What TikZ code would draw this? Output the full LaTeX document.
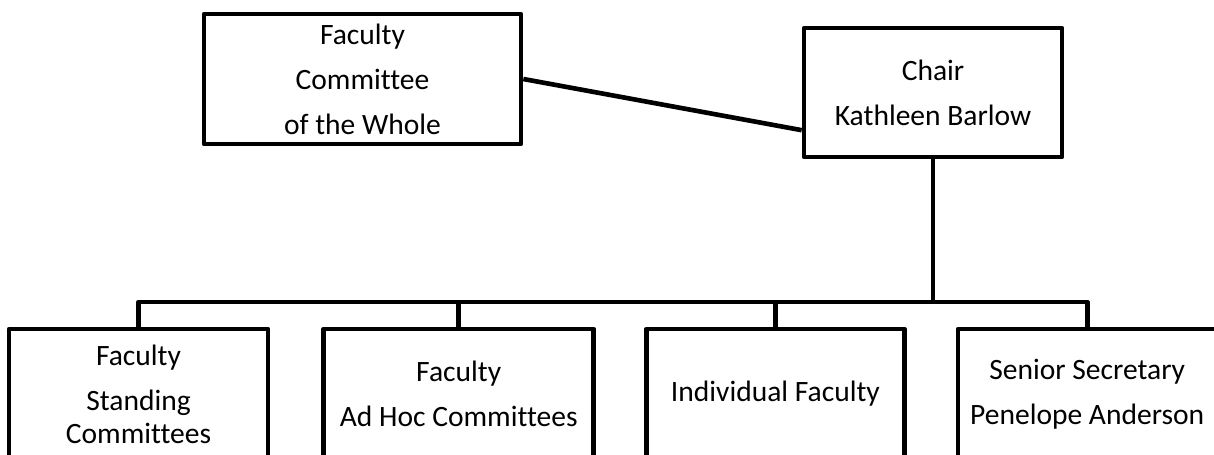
\documentclass[tikz,border=0pt]{standalone}
\usepackage{fontspec}
\setmainfont{Carlito}[Ligatures=NoCommon]
\usetikzlibrary{positioning}
\definecolor{ChartInk}{HTML}{000000}
\tikzset{
  every node/.style={font={\fontsize{21}{32}\selectfont}, text=ChartInk},
  unit/.style={draw=ChartInk, line width=3.3pt, line join=round, rectangle,
    align=center, inner sep=0pt, minimum width=6.45cm, minimum height=3.25cm},
  link/.style={draw=ChartInk, line width=3.3pt, line join=round},
}

\begin{document}
\begin{tikzpicture}[x=0.025cm,y=-0.025cm]
  \useasboundingbox (0,0) rectangle (1214,454);
  \clip (0,0) rectangle (1214,454);
  % Top row: committee of the whole and the chair
  \node[unit, minimum width=7.925cm] (whole) at (362.5,79)
    {Faculty\\Committee\\of the Whole};
  \node[unit, minimum height=3.225cm] (chair) at (933,92.5)
    {Chair\\Kathleen Barlow};
  \draw[link] (whole.east) -- (chair.196.6);
  % Bottom row: units reporting to the chair
  \node[unit, minimum width=6.475cm] (standing) at (138.5,394)
    {Faculty\\Standing\\[-8.5pt]Committees};
  \node[unit, minimum width=6.75cm, right=1.275cm of standing] (adhoc)
    {Faculty\\Ad Hoc Committees};
  \node[unit, right=1.2cm of adhoc] (individual) {Individual Faculty};
  \node[unit, right=1.225cm of individual] (secretary)
    {Senior Secretary\\Penelope Anderson};
  % Bus from the chair down to the row
  \coordinate (bus) at (0,302);
  \draw[link] (chair.south) -- (chair.south |- bus);
  \draw[link] (standing.north) -- (standing.north |- bus)
    -- (secretary.north |- bus) -- (secretary.north);
  \draw[link] (adhoc.north) -- (adhoc.north |- bus);
  \draw[link] (individual.north) -- (individual.north |- bus);
\end{tikzpicture}
\end{document}
